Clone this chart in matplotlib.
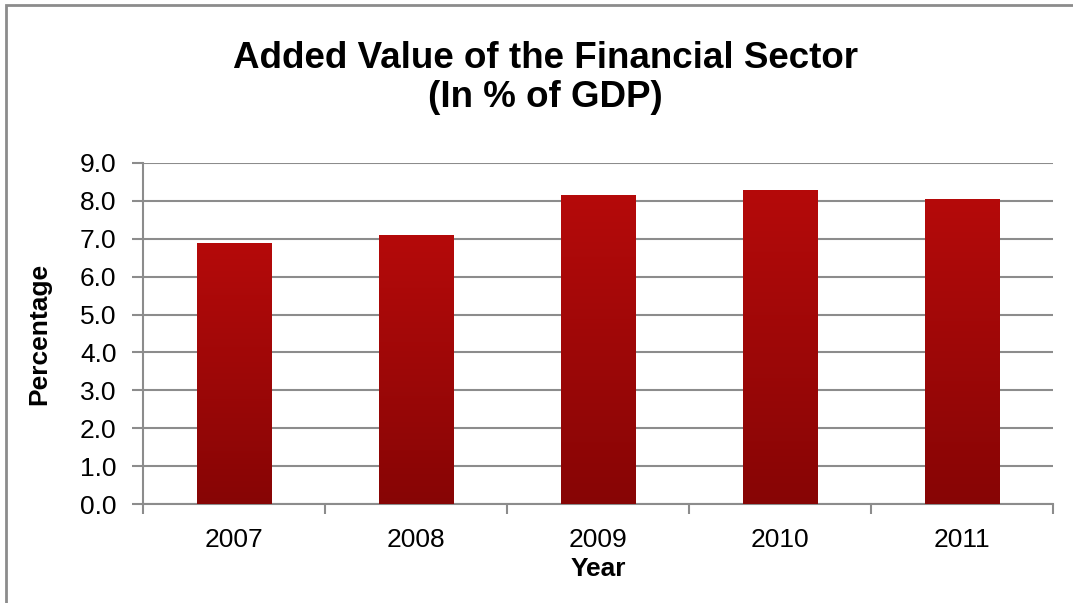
import numpy as np
import matplotlib.pyplot as plt
from matplotlib.patches import Rectangle
from matplotlib.colors import LinearSegmentedColormap

years = ['2007', '2008', '2009', '2010', '2011']
values = [6.9, 7.1, 8.15, 8.3, 8.05]
yticks = np.arange(0, 9.5, 1.0)

plt.rcParams['font.family'] = ['Liberation Sans', 'DejaVu Sans']

fig = plt.figure(figsize=(10.73, 6.03), dpi=100)
ax = fig.add_axes([143/1073, 99/603, 910/1073, 341/603])

x = np.arange(len(years))
bars = ax.bar(x, values, width=0.41, color='#a30808', zorder=3)

# vertical gradient for each bar
grad = np.linspace(0, 1, 256).reshape(-1, 1)
cmap = LinearSegmentedColormap.from_list('red', ['#870505', '#b50a0a'])
for b in bars:
    x0, y0 = b.get_x(), b.get_y()
    w, h = b.get_width(), b.get_height()
    im = ax.imshow(grad, cmap=cmap, origin='lower', aspect='auto',
                   extent=[x0, x0 + w, y0, y0 + h], zorder=4)
    im.set_clip_path(b)

ax.set_xlim(-0.5, len(years) - 0.5)
ax.set_ylim(0, 9)
ax.set_yticks(yticks)
ax.set_yticklabels(['%.1f' % v for v in yticks], fontsize=19)
ax.set_xticks(x)
ax.set_xticklabels(years, fontsize=19)
ax.set_xticks(np.arange(-0.5, len(years)), minor=True)
ax.tick_params(axis='x', which='major', length=0, pad=17)
ax.tick_params(axis='x', which='minor', length=7, width=1.5, color='#8c8c8c', direction='out')
ax.tick_params(axis='y', length=8, width=1.5, color='#8c8c8c', pad=11)

ax.grid(axis='y', color='#8c8c8c', linewidth=1.5, zorder=0)
for s in ['top', 'right']:
    ax.spines[s].set_visible(False)
for s in ['left', 'bottom']:
    ax.spines[s].set_color('#8c8c8c')
    ax.spines[s].set_linewidth(1.5)

ax.set_ylabel('Percentage', fontsize=19, fontweight='bold', labelpad=21)
ax.set_xlabel('Year', fontsize=19, fontweight='bold', labelpad=4)

fig.text(0.508, 0.871, 'Added Value of the Financial Sector\n(In % of GDP)',
         ha='center', va='center', fontsize=26.5, fontweight='bold', linespacing=1.15)

fig.patches.append(Rectangle((6/1073, -0.1), 1.2, (603 - 5)/603 + 0.1,
                             transform=fig.transFigure, fill=False,
                             edgecolor='#8c8c8c', linewidth=2))

fig.savefig('out.png', dpi=100)
